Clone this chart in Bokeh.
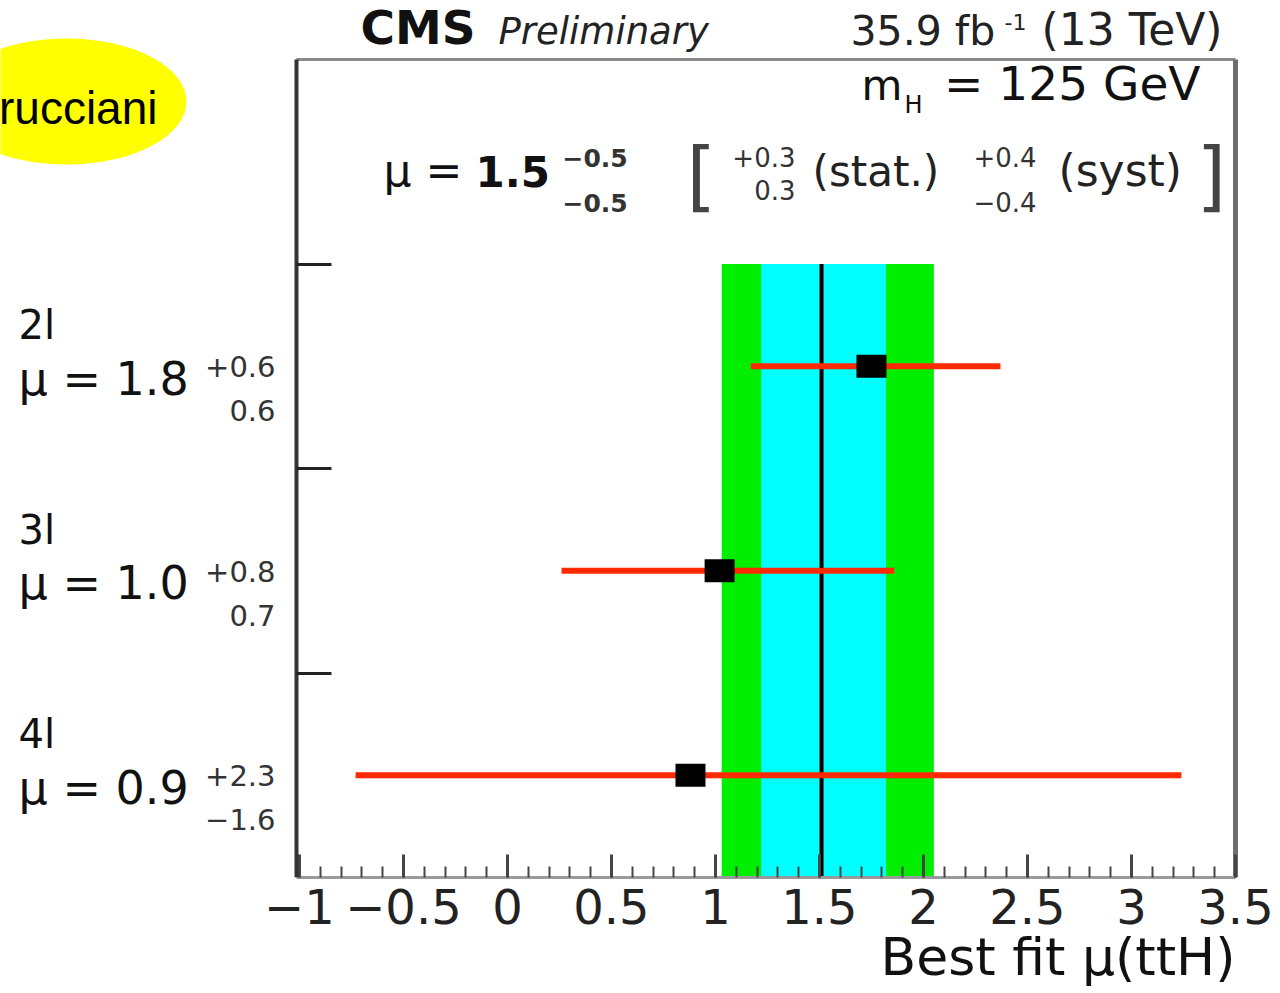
from bokeh.plotting import figure
from bokeh.models import (Label, Title, SingleIntervalTicker, FixedTicker,
                          CustomJSTickFormatter, Range1d)
from bokeh.embed import file_html
from bokeh.resources import INLINE

# ---------------- data ----------------
categories = ["2l", "3l", "4l"]
mu_best = [1.75, 1.02, 0.88]          # plotted best-fit values
err_down = [0.58, 0.76, 1.61]
err_up = [0.62, 0.84, 2.36]
label_mu = ["1.8", "1.0", "0.9"]
label_up = ["+0.6", "+0.8", "+2.3"]
label_down = ["0.6", "0.7", "\u22121.6"]

comb_mu = 1.51
comb_tot = [1.03, 2.05]               # green band
comb_stat = [1.22, 1.82]              # cyan band

x_ticks = [-1, -0.5, 0, 0.5, 1, 1.5, 2, 2.5, 3, 3.5]
x_tick_labels = ["\u22121", "\u22120.5", "0", "0.5", "1", "1.5", "2", "2.5", "3", "3.5"]
x_label = "Best fit \u03bc(ttH)"

# ---------------- layout (page pixels) ----------------
X_MIN, X_MAX = -1.014, 3.5
Y_MIN, Y_MAX = 0.0, 4.0
BOX_L, BOX_R, BOX_T, BOX_B = 296, 1235, 59, 877
PXU = (BOX_R - BOX_L) / (X_MAX - X_MIN)
YPU = (BOX_B - BOX_T) / (Y_MAX - Y_MIN)
FRAME_W = 1240
FONT = "DejaVu Sans"


def dx(px):
    return X_MIN + (px - BOX_L) / PXU


def dy(py):
    return (BOX_B - py) / YPU


p = figure(frame_width=FRAME_W, frame_height=BOX_B,
           x_range=Range1d(dx(0), dx(FRAME_W)), y_range=Range1d(dy(BOX_B), dy(0)),
           y_axis_location="right",
           output_backend="svg", toolbar_location=None,
           min_border_left=0, min_border_top=0, min_border_right=40, min_border_bottom=0)
p.title.visible = False
p.xgrid.visible = False
p.ygrid.visible = False
p.outline_line_color = None
p.background_fill_color = "white"
p.border_fill_color = "white"

n = len(categories)
row_y = [n - i - 0.5 for i in range(n)]
lo = [m - d for m, d in zip(mu_best, err_down)]
hi = [m + u for m, u in zip(mu_best, err_up)]

# yellow name badge (top-left)
p.ellipse(x=[dx(66)], y=[dy(101)], width=240 / PXU, height=126 / YPU,
          fill_color="#ffff00", line_color=None)

# bands and combined line
p.quad(left=[comb_tot[0]], right=[comb_tot[1]], bottom=[Y_MIN], top=[n],
       fill_color="#00ee00", line_color=None)
p.quad(left=[comb_stat[0]], right=[comb_stat[1]], bottom=[Y_MIN], top=[n],
       fill_color="#00ffff", line_color=None)
p.segment(x0=[comb_mu], y0=[Y_MIN], x1=[comb_mu], y1=[n], line_color="black", line_width=4)

# per-category results
p.segment(x0=lo, y0=row_y, x1=hi, y1=row_y, line_color="#ff2a00", line_width=6)
p.rect(x=mu_best, y=row_y, width=30, height=23, width_units="screen",
       height_units="screen", fill_color="black", line_color=None)

# top and right edges of the plot box
p.segment(x0=[X_MIN], y0=[Y_MAX], x1=[X_MAX], y1=[Y_MAX], line_color="#8a8a8a", line_width=3)
p.segment(x0=[X_MAX], y0=[Y_MIN], x1=[X_MAX], y1=[Y_MAX], line_color="#6e6e6e", line_width=5)

# ---------------- axes ----------------
xa = p.xaxis[0]
xa.bounds = (X_MIN, X_MAX)
xa.ticker = SingleIntervalTicker(interval=0.5, num_minor_ticks=5)
xa.formatter = CustomJSTickFormatter(
    args=dict(vals=x_ticks, labs=x_tick_labels),
    code="const k = vals.findIndex(v => Math.abs(v - tick) < 1e-6); return k >= 0 ? labs[k] : '';")
xa.major_tick_in = 23
xa.major_tick_out = 0
xa.minor_tick_in = 11
xa.minor_tick_out = 0
xa.major_tick_line_color = "#444444"
xa.major_tick_line_width = 3
xa.minor_tick_line_color = "#444444"
xa.minor_tick_line_width = 2
xa.axis_line_color = "#9a9a9a"
xa.axis_line_width = 3
xa.major_label_text_font = FONT
xa.major_label_text_font_size = "48px"
xa.major_label_text_color = "#222222"
xa.major_label_standoff = 11

ya = p.yaxis[0]
ya.fixed_location = X_MIN
ya.bounds = (Y_MIN, Y_MAX)
ya.ticker = FixedTicker(ticks=list(range(1, n + 1)), minor_ticks=[])
ya.formatter = CustomJSTickFormatter(code="return '';")
ya.major_tick_in = 0
ya.major_tick_out = 35
ya.minor_tick_in = 0
ya.minor_tick_out = 0
ya.major_label_standoff = 0
ya.major_tick_line_color = "#222222"
ya.major_tick_line_width = 3
ya.axis_line_color = "#333333"
ya.axis_line_width = 4

# x-axis title, right aligned at the box edge, below the tick labels
p.add_layout(Title(text=x_label, align="right", offset=5, vertical_align="top",
                   standoff=0, text_font=FONT, text_font_size="52px",
                   text_font_style="normal", text_color="#111111"), "below")


def lab(text, px, py, size, align="left", font=FONT, style="normal", color="#111111"):
    # py is the wanted baseline in page pixels
    p.add_layout(Label(x=dx(px), y=dy(py - 0.4 * size), text=text, text_font=font,
                       text_font_size=f"{size}px", text_font_style=style,
                       text_align=align, text_baseline="alphabetic", text_color=color))


lab("rucciani", 157, 126, 46, align="right", font="Liberation Sans", color="#000000")

# header
lab("CMS", 360, 46, 47, style="bold")
lab("Preliminary", 498, 46, 37, style="italic", color="#222222")
lab("35.9 fb", 850, 47, 41, color="#222222")
lab("-1", 1004, 30, 22, color="#222222")
lab("(13 TeV)", 1222, 47, 44, align="right", color="#222222")
lab("m", 861, 102, 42)
lab("H", 904, 114, 24)
lab("= 125 GeV", 1200, 102, 47, align="right")

# combined result text
lab("\u03bc =", 383, 188, 44)
lab("1.5", 475, 188, 42, style="bold")
lab("\u22120.5", 562, 167, 25, style="bold", color="#333333")
lab("\u22120.5", 562, 212, 25, style="bold", color="#333333")
lab("[", 686, 205, 76, color="#444444")
lab("+0.3", 795, 167, 26, align="right", color="#333333")
lab("0.3", 795, 200, 26, align="right", color="#333333")
lab("(stat.)", 812, 188, 42, color="#222222")
lab("+0.4", 973, 167, 26, color="#333333")
lab("\u22120.4", 973, 212, 26, color="#333333")
lab("(syst)", 1058, 188, 44, color="#222222")
lab("]", 1196, 205, 76, color="#444444")

# category labels on the left, tied to the row positions
for i, cat in enumerate(categories):
    cpy = BOX_B - row_y[i] * YPU
    lab(cat, 18, cpy - 25, 40)
    lab("\u03bc = " + label_mu[i], 18, cpy + 31, 46)
    lab(label_up[i], 275, cpy + 12, 29, align="right", color="#333333")
    lab(label_down[i], 275, cpy + 56, 29, align="right", color="#333333")

open("out.html", "w").write(file_html(p, INLINE))
